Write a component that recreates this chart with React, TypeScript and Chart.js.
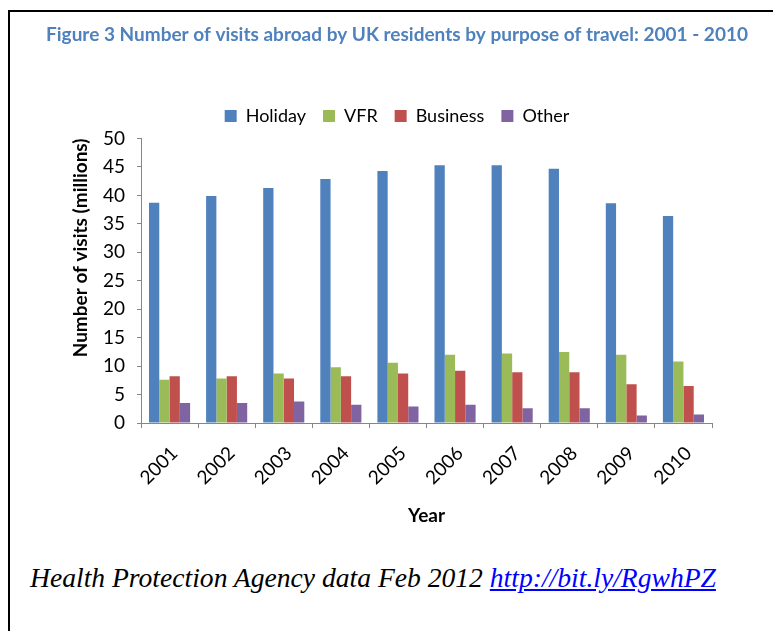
import React, { useEffect, useRef } from "react";
import { Chart, registerables } from "chart.js";

Chart.register(...registerables);

const years = ["2001", "2002", "2003", "2004", "2005", "2006", "2007", "2008", "2009", "2010"];
const holiday = [38.7, 39.9, 41.3, 42.9, 44.3, 45.3, 45.3, 44.7, 38.6, 36.4];
const vfr = [7.6, 7.8, 8.7, 9.8, 10.6, 12.0, 12.2, 12.5, 12.0, 10.8];
const business = [8.2, 8.2, 7.8, 8.2, 8.7, 9.2, 8.9, 8.9, 6.8, 6.5];
const other = [3.5, 3.5, 3.8, 3.2, 2.9, 3.2, 2.6, 2.6, 1.3, 1.5];
const yTicks = [0, 5, 10, 15, 20, 25, 30, 35, 40, 45, 50];

const FONT = "Lato";

const legendAdjust = {
  id: "legendAdjust",
  afterInit(chart: any) {
    const lg = chart.legend;
    if (!lg) return;
    const orig = Object.getPrototypeOf(lg).fit;
    lg.fit = function () {
      orig.call(this);
      this.height += 3.5;
    };
  },
};

export default function App() {
  const ref = useRef<HTMLCanvasElement>(null);
  useEffect(() => {
    if (!ref.current) return;
    const chart = new Chart(ref.current, {
      type: "bar",
      data: {
        labels: years,
        datasets: [
          { label: "Holiday", data: holiday, backgroundColor: "#4F81BD" },
          { label: "VFR", data: vfr, backgroundColor: "#9BBB59" },
          { label: "Business", data: business, backgroundColor: "#C0504D" },
          { label: "Other", data: other, backgroundColor: "#8064A2" },
        ],
      },
      plugins: [legendAdjust],
      options: {
        animation: false,
        responsive: false,
        maintainAspectRatio: false,
        layout: { padding: { left: 8, right: 0, top: 0, bottom: 0 } },
        datasets: { bar: { categoryPercentage: 0.72, barPercentage: 1.0 } },
        plugins: {
          tooltip: { enabled: false },
          title: {
            display: true,
            text: "Figure 3 Number of visits abroad by UK residents by purpose of travel: 2001 - 2010",
            color: "#4F81BD",
            font: { family: FONT, size: 19, weight: "bold" },
            padding: { top: 11.6, bottom: 43.6 },
          },
          legend: {
            display: true,
            labels: {
              color: "#000",
              font: { family: FONT, size: 18 },
              boxWidth: 12,
              boxHeight: 12,
              padding: 17,
            },
          },
        },
        scales: {
          x: {
            afterFit: (s: any) => {
              s.height = 119;
            },
            grid: { drawOnChartArea: false, color: "#868686", tickLength: 5, offset: true },
            border: { color: "#868686" },
            ticks: {
              color: "#000",
              font: { family: FONT, size: 19 },
              maxRotation: 45,
              minRotation: 45,
              padding: 14,
              labelOffset: 5,
            },
            title: {
              display: true,
              text: "Year",
              color: "#000",
              font: { family: FONT, size: 19, weight: "bold" },
              padding: { top: 0, bottom: 14.6 },
            },
          },
          y: {
            min: 0,
            max: 50,
            afterFit: (s: any) => {
              s.width = 123;
            },
            afterBuildTicks: (s: any) => {
              s.ticks = yTicks.map((v) => ({ value: v }));
            },
            grid: { drawOnChartArea: false, color: "#868686", tickLength: 4 },
            border: { color: "#868686" },
            ticks: {
              color: "#000",
              font: { family: FONT, size: 19 },
              padding: 12,
            },
            title: {
              display: true,
              text: "Number of visits (millions)",
              color: "#000",
              align: "end",
              font: { family: FONT, size: 19, weight: "bold" },
              padding: { top: 51, bottom: 0 },
            },
          },
          yRight: {
            type: "linear",
            position: "right",
            display: true,
            afterFit: (s: any) => {
              s.width = 64;
            },
            grid: { display: false },
            border: { display: false },
            ticks: { display: false },
          },
        },
      },
    });
    return () => chart.destroy();
  }, []);

  return (
    <div
      style={{
        marginTop: 2,
        border: "2px solid #000",
        width: 766,
        height: 640,
        position: "relative",
        background: "#fff",
      }}
    >
      <div style={{ position: "relative", width: 766, height: 530 }}>
        <canvas ref={ref} width={766} height={530} style={{ display: "block" }} />
      </div>
      <div
        style={{
          position: "absolute",
          left: 20,
          top: 550,
          fontFamily: '"Liberation Serif", "Times New Roman", serif',
          fontStyle: "italic",
          fontSize: 27.6,
          color: "#000",
          whiteSpace: "nowrap",
        }}
      >
        Health Protection Agency data Feb 2012{" "}
        <a href="http://bit.ly/RgwhPZ" style={{ color: "#0000FF", textDecoration: "underline" }}>
          http://bit.ly/RgwhPZ
        </a>
      </div>
    </div>
  );
}
